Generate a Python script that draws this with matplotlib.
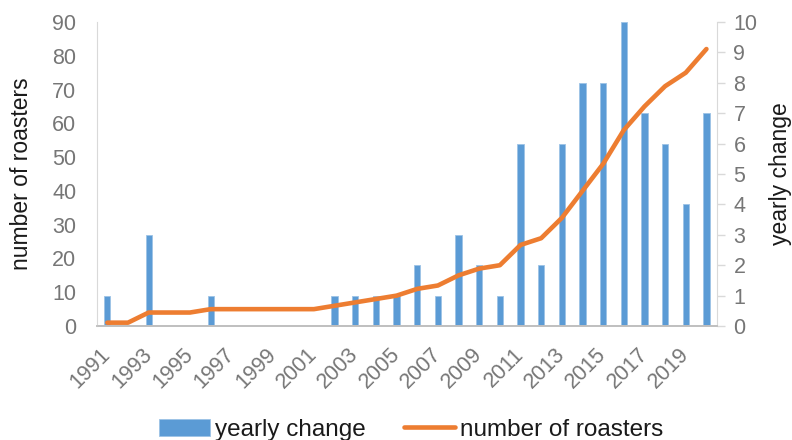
import matplotlib
matplotlib.use("Agg")
import matplotlib.pyplot as plt

plt.rcParams['font.family'] = ['Liberation Sans', 'DejaVu Sans']

years = list(range(1991, 2021))
yearly_change = [1, 0, 3, 0, 0, 1, 0, 0, 0, 0, 0, 1, 1, 1, 1,
                 2, 1, 3, 2, 1, 6, 2, 6, 8, 8, 10, 7, 6, 4, 7]
roasters = [1, 1, 4, 4, 4, 5, 5, 5, 5, 5, 5, 6, 7, 8, 9,
            11, 12, 15, 17, 18, 24, 26, 32, 40, 48, 58, 65, 71, 75, 82]
year_labels = [str(y) for y in years[::2]]

blue = '#5B9BD5'
orange = '#ED7D31'
tick_gray = '#767676'
spine_gray = '#D9D9D9'

fig = plt.figure(figsize=(7.92, 4.4), dpi=100)
ax = fig.add_axes([0.1225, 0.259, 0.7825, 0.691])
ax2 = ax.twinx()

x = list(range(len(years)))
bars = ax2.bar(x, yearly_change, width=0.3, color=blue, edgecolor='#9DC3E6',
               linewidth=0.6, label='yearly change')
line, = ax.plot(x, roasters, color=orange, lw=3.3, solid_capstyle='round',
                solid_joinstyle='round', label='number of roasters')

# line above the bars
ax.set_zorder(ax2.get_zorder() + 1)
ax.patch.set_visible(False)

ax.set_xlim(-0.5, len(years) - 0.5)
ax.set_ylim(0, 90)
ax2.set_ylim(0, 10)
ax.set_yticks(range(0, 91, 10))
ax2.set_yticks(range(0, 11))
ax.set_xticks(x[::2])
ax.set_xticklabels(year_labels, rotation=45, ha='right', va='center',
                   rotation_mode='anchor')

ax.tick_params(axis='y', length=0, pad=15, labelsize=15.5, labelcolor=tick_gray)
ax.tick_params(axis='x', length=0, pad=18, labelsize=15.5, labelcolor=tick_gray)
ax2.tick_params(axis='y', length=6, width=1, color=spine_gray, pad=6,
                labelsize=15.5, labelcolor=tick_gray)

for a in (ax, ax2):
    a.spines['top'].set_visible(False)
    a.spines['left'].set_color(spine_gray)
    a.spines['right'].set_color(spine_gray)
    a.spines['bottom'].set_color('#BFBFBF')
    a.spines['bottom'].set_linewidth(1.2)
ax.spines['right'].set_visible(False)
ax2.spines['left'].set_visible(False)

ax.set_ylabel('number of roasters', fontsize=16.5, color='#1a1a1a', labelpad=14)
ax2.set_ylabel('yearly change', fontsize=16.5, color='#1a1a1a', labelpad=8)

fig.legend([bars, line], ['yearly change', 'number of roasters'],
           loc='center', bbox_to_anchor=(0.519, 0.023),
           bbox_transform=fig.transFigure, ncol=2, frameon=False,
           fontsize=17.5, handlelength=2.1, handletextpad=0.2,
           columnspacing=1.6, borderpad=0, labelcolor='#1a1a1a')

fig.savefig('out.png', dpi=100)
